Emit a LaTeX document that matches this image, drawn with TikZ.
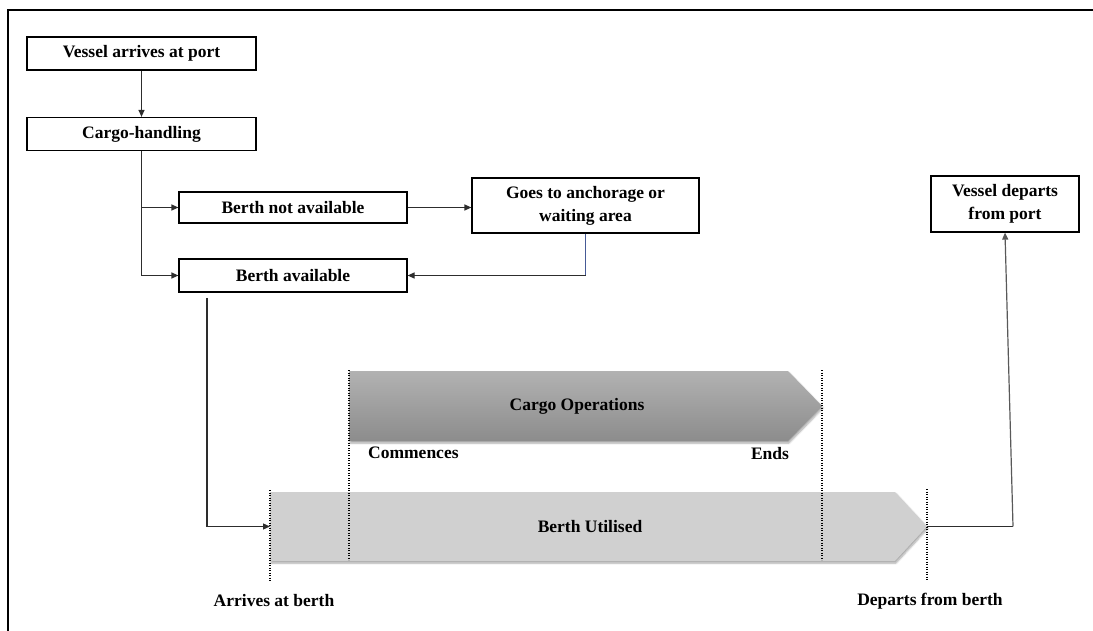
\documentclass[tikz,border=0pt]{standalone}
\usepackage{fontspec}
\setmainfont{Liberation Serif}
\usetikzlibrary{arrows.meta,shadows.blur}

\definecolor{linegray}{RGB}{45,45,45}
\definecolor{linkblue}{RGB}{70,90,150}
\definecolor{opstop}{RGB}{178,178,178}
\definecolor{opsbottom}{RGB}{140,140,140}
\definecolor{berthfill}{RGB}{208,208,208}

\tikzset{
  txt/.style={font=\bfseries\fontsize{17.5}{23}\selectfont, text=black},
  stepbox/.style={txt, draw=black, line width=1.2pt, fill=white, inner sep=0pt, align=center},
  link/.style={draw=linegray, line width=1.2pt, -{Triangle[length=7pt,width=6pt]}},
  plainlink/.style={draw=linegray, line width=1.2pt},
  marker/.style={draw=black, line width=1.5pt, dash pattern=on 1.2pt off 1.3pt},
  bandshadow/.style={blur shadow={shadow xshift=1pt, shadow yshift=-2pt, shadow blur steps=6, shadow opacity=35}},
  tag/.style={txt, inner sep=0pt}
}

\begin{document}
\begin{tikzpicture}[x=1pt, y=-1pt]
\useasboundingbox (0,0) rectangle (1093,631);

% partial frame: top and left edges
\draw[line width=2.2pt, black] (8,631) -- (8,10) -- (1094,10);

% process boxes
\node[stepbox, minimum width=229pt, minimum height=33pt] (arrive) at (141.5,53.5) {Vessel arrives at port};
\node[stepbox, minimum width=229pt, minimum height=33pt] (cargo) at (141.5,134) {Cargo-handling};
\node[stepbox, minimum width=228pt, minimum height=31pt] (notavail) at (293,207.5) {Berth not available};
\node[stepbox, minimum width=228pt, minimum height=33pt] (avail) at (293,275.5) {Berth available};
\node[stepbox, minimum width=227pt, minimum height=55pt] (anchor) at (585.5,205.5) {Goes to anchorage or\\waiting area};
\node[stepbox, minimum width=148pt, minimum height=56pt] (departs) at (1005,204) {Vessel departs\\from port};

% time bands
\path[bandshadow, top color=opstop, bottom color=opsbottom]
  (349,371) -- (788,371) -- (822,406) -- (788,441) -- (349,441) -- cycle;
\path[bandshadow, fill=berthfill]
  (270,492) -- (895,492) -- (927,526.5) -- (895,561) -- (270,561) -- cycle;

\node[tag] (ops) at (577,406) {Cargo Operations};
\node[tag] (berth) at (590,526.5) {Berth Utilised};

% event markers
\draw[marker] (270,490) -- (270,582);
\draw[marker] (349,370) -- (349,560);
\draw[marker] (822,370) -- (822,560);
\draw[marker] (927,489) -- (927,580);

\node[tag, anchor=west] (commences) at (368,453) {Commences};
\node[tag] (ends) at (770,454) {Ends};
\node[tag] (arrivesb) at (274,601) {Arrives at berth};
\node[tag] (departsb) at (930,601) {Departs from berth};

% connector end points
\coordinate (avout) at (207,298);
\coordinate (buin) at (270,526.5);
\coordinate (butip) at (927,526.5);
\coordinate (depturn) at (1013,526.5);

% connectors
\draw[link] (arrive.south) -- (cargo.north);
\draw[link] (cargo.south) |- (notavail.west);
\draw[link] (cargo.south) |- (avail.west);
\draw[link] (notavail.east) -- (anchor.west |- notavail.east);
\draw[draw=linkblue, line width=1.2pt] (anchor.south) -- (anchor.south |- avail.east) coordinate (ancturn);
\draw[link] (ancturn) -- (avail.east);
\draw[link] (avout) |- (buin);
\draw[plainlink] (butip) -- (depturn);
\draw[link, draw=gray!70!black] (depturn) -- (departs.south);
\end{tikzpicture}
\end{document}
